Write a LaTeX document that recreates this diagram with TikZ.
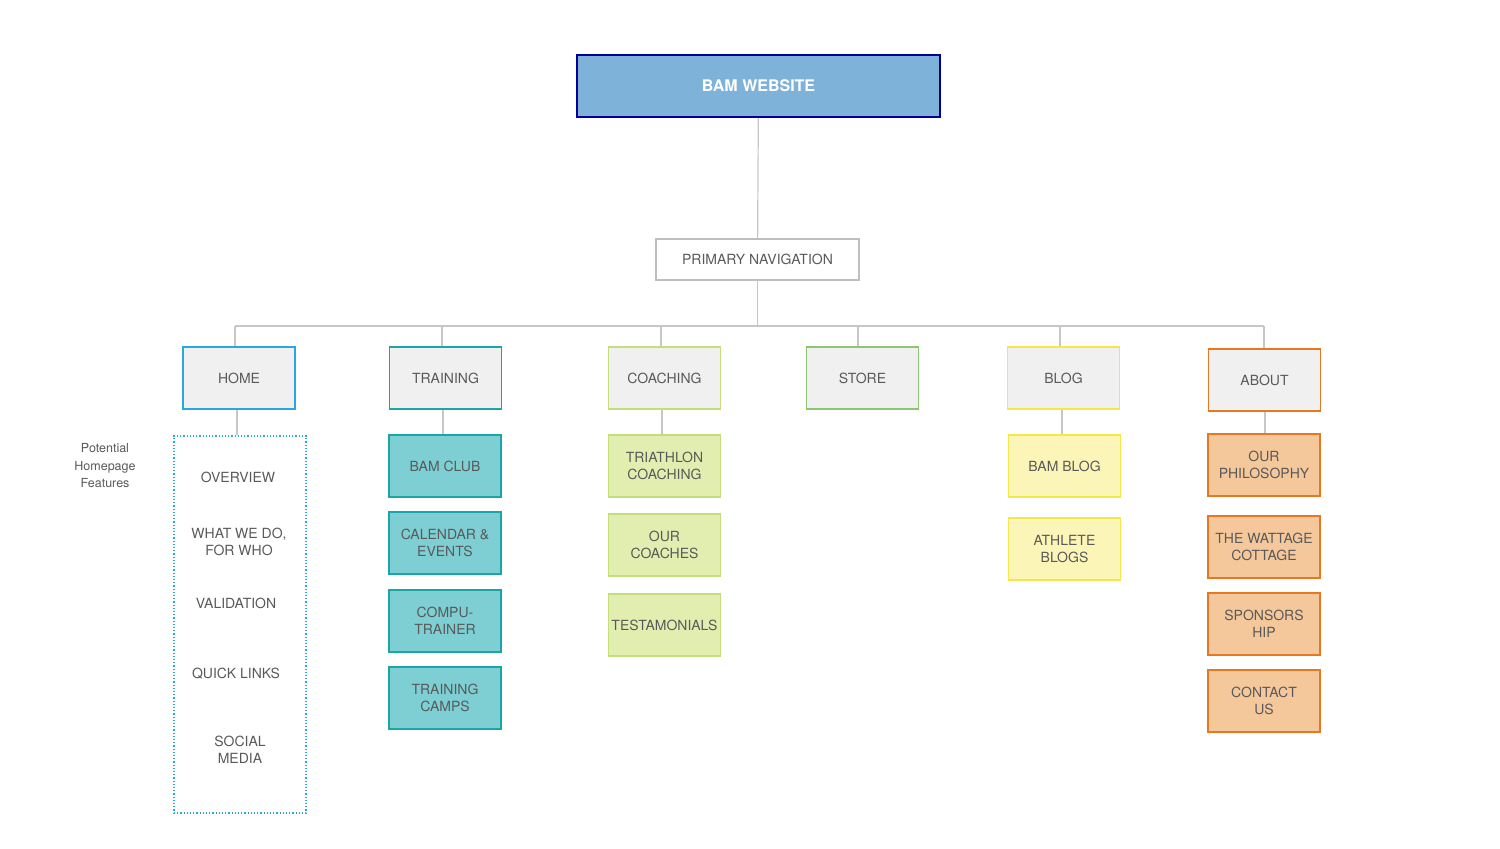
\documentclass[tikz,border=0pt]{standalone}
\usepackage{fontspec}
\setmainfont{TeX Gyre Heros}
\begin{document}
\begin{tikzpicture}[x=1pt,y=-1pt,
 base/.style={draw,line width=1.6pt,minimum width=112pt,minimum height=62pt,align=center,text=black!65,font=\fontsize{14}{17}\selectfont,inner sep=1pt},
 top/.style={base,fill=white!94!black},
 trn/.style={base,fill=tealF,draw=tealB},
 cch/.style={base,fill=greenF,draw=greenB},
 blg/.style={base,fill=yelF,draw=yelB},
 abt/.style={base,fill=orF,draw=orB},
 item/.style={align=center,text=black!65,font=\fontsize{14}{17}\selectfont},
 con/.style={draw=black!22,line width=1.2pt}]
\definecolor{tealF}{HTML}{7DCFD3}\definecolor{tealB}{HTML}{1AA5A8}
\definecolor{greenF}{HTML}{E2EEB0}\definecolor{greenB}{HTML}{C5DE7A}
\definecolor{yelF}{HTML}{FCF5B8}\definecolor{yelB}{HTML}{F5E64A}
\definecolor{orF}{HTML}{F4C89A}\definecolor{orB}{HTML}{E87722}
\useasboundingbox (0,0) rectangle (1500,849);
\node[draw=blue!60!black,line width=2pt,fill={rgb,255:red,127;green,178;blue,217},minimum width=363pt,minimum height=62pt,text=white,font=\fontsize{16}{19}\selectfont\bfseries] (web) at (758.5,86) {BAM WEBSITE};
\node[draw=black!25,line width=1.2pt,minimum width=203pt,minimum height=41pt,text=black!65,font=\fontsize{14}{17}\selectfont] (nav) at (757.5,259.5) {PRIMARY NAVIGATION};
\node[top,draw={rgb,255:red,41;green,168;blue,224}] (home) at (239,378) {HOME};
\node[top,draw=tealB] (train) at (445.5,378) {TRAINING};
\node[top,draw=greenB] (coach) at (664.5,378) {COACHING};
\node[top,draw={rgb,255:red,141;green,198;blue,111}] (store) at (862.5,378) {STORE};
\node[top,draw=yelB] (blog) at (1063.5,378) {BLOG};
\node[top,draw=orB] (about) at (1264.5,380) {ABOUT};
\coordinate (busL) at (235,326); \coordinate (busR) at (1264,326);
\draw[con] (web) -- (nav);
\draw[con] (nav) -- (nav |- busL);
\draw[con] (busL) -- (busR);
\foreach \n/\x in {home/235,train/442,coach/661,store/858,blog/1060,about/1264}
  \draw[con] (\x,326) -- (\n.north -| \x,0);
% home features
\node[draw={rgb,255:red,41;green,168;blue,224},dotted,line width=1.2pt,minimum width=132pt,minimum height=377pt] (feat) at (240,624.5) {};
\draw[con] (home.south -| 237,0) -- (feat.north -| 237,0);
\node[align=center,text=black!65,font=\fontsize{12.5}{17.5}\selectfont] (pot) at (105,466) {Potential\\Homepage\\Features};
\node[item] (i1) at (238,477) {OVERVIEW};
\node[item] (i2) at (239,542) {WHAT WE DO,\\FOR WHO};
\node[item] (i3) at (236,603) {VALIDATION};
\node[item] (i4) at (236,674) {QUICK LINKS};
\node[item] (i5) at (240,750) {SOCIAL\\MEDIA};
% training
\node[trn] (t1) at (445,466) {BAM CLUB};
\node[trn] (t2) at (445,543) {CALENDAR \&\\EVENTS};
\node[trn] (t3) at (445,621) {COMPU-\\TRAINER};
\node[trn] (t4) at (445,698) {TRAINING\\CAMPS};
\draw[con] (train.south -| 443,0) -- (t1.north -| 443,0);
% coaching
\node[cch] (c1) at (664.5,466) {TRIATHLON\\COACHING};
\node[cch] (c2) at (664.5,545) {OUR\\COACHES};
\node[cch] (c3) at (664.5,625) {TESTAMONIALS};
\draw[con] (coach.south -| 662,0) -- (c1.north -| 662,0);
% blog
\node[blg] (b1) at (1064.5,466) {BAM BLOG};
\node[blg] (b2) at (1064.5,549) {ATHLETE\\BLOGS};
\draw[con] (blog.south -| 1062,0) -- (b1.north -| 1062,0);
% about
\node[abt] (a1) at (1264,465) {OUR\\PHILOSOPHY};
\node[abt] (a2) at (1264,547) {THE WATTAGE\\COTTAGE};
\node[abt] (a3) at (1264,624) {SPONSORS\\HIP};
\node[abt] (a4) at (1264,701) {CONTACT\\US};
\draw[con] (about.south -| 1265,0) -- (a1.north -| 1265,0);
\end{tikzpicture}
\end{document}
